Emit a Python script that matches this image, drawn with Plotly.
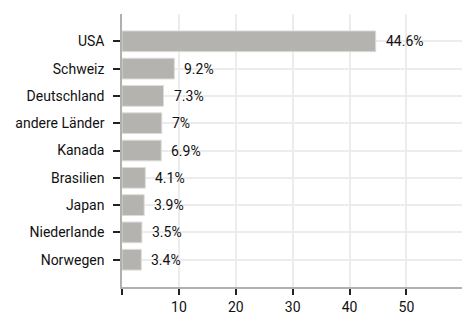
import plotly.graph_objects as go

countries = ["USA", "Schweiz", "Deutschland", "andere Länder", "Kanada",
             "Brasilien", "Japan", "Niederlande", "Norwegen"]
shares = [44.6, 9.2, 7.3, 7, 6.9, 4.1, 3.9, 3.5, 3.4]
x_tickvals = [0, 10, 20, 30, 40, 50]
x_ticktext = ["", "10", "20", "30", "40", "50"]

FONT = "Roboto, Inter, sans-serif"
FS = 14
TXT = "#111111"

fig = go.Figure()
fig.add_trace(go.Bar(
    y=countries, x=shares, orientation="h",
    marker=dict(color="#b4b3af", line=dict(color="#dcdcd9", width=1)),
    width=0.76, hoverinfo="skip",
))

for c, v in zip(countries, shares):
    fig.add_annotation(x=v, y=c, text=f"{v:g}%", showarrow=False,
                       xanchor="left", xshift=8,
                       font=dict(family=FONT, size=FS, color=TXT))

fig.add_shape(type="line", x0=60, x1=60, y0=0, y1=1, yref="paper",
              line=dict(color="#ececec", width=1.5), layer="below")

# the page body has an 8px margin, so the figure is sized to end at the window edge
fig.update_layout(
    width=462, height=308,
    margin=dict(l=114, r=1, t=6, b=29, autoexpand=False),
    plot_bgcolor="white", paper_bgcolor="white",
    showlegend=False,
    font=dict(family=FONT, size=FS, color=TXT),
    xaxis=dict(range=[0, 61], tickvals=x_tickvals, ticktext=x_ticktext,
               automargin=False,
               showgrid=True, gridcolor="#ececec", gridwidth=1.5,
               zeroline=False, showline=True, linecolor="#b0b0b0", linewidth=1.5,
               ticks="outside", ticklen=6, tickcolor="#222", tickwidth=1.5),
    yaxis=dict(categoryorder="array", categoryarray=countries,
               autorange=False, range=[len(countries), -1], automargin=False,
               ticklabelstandoff=6,
               showgrid=True, gridcolor="#ececec", gridwidth=1.5,
               zeroline=False, showline=True, linecolor="#b0b0b0", linewidth=1.5,
               ticks="outside", ticklen=7, tickcolor="#222", tickwidth=1.5),
)

fig.write_html("out.html")
